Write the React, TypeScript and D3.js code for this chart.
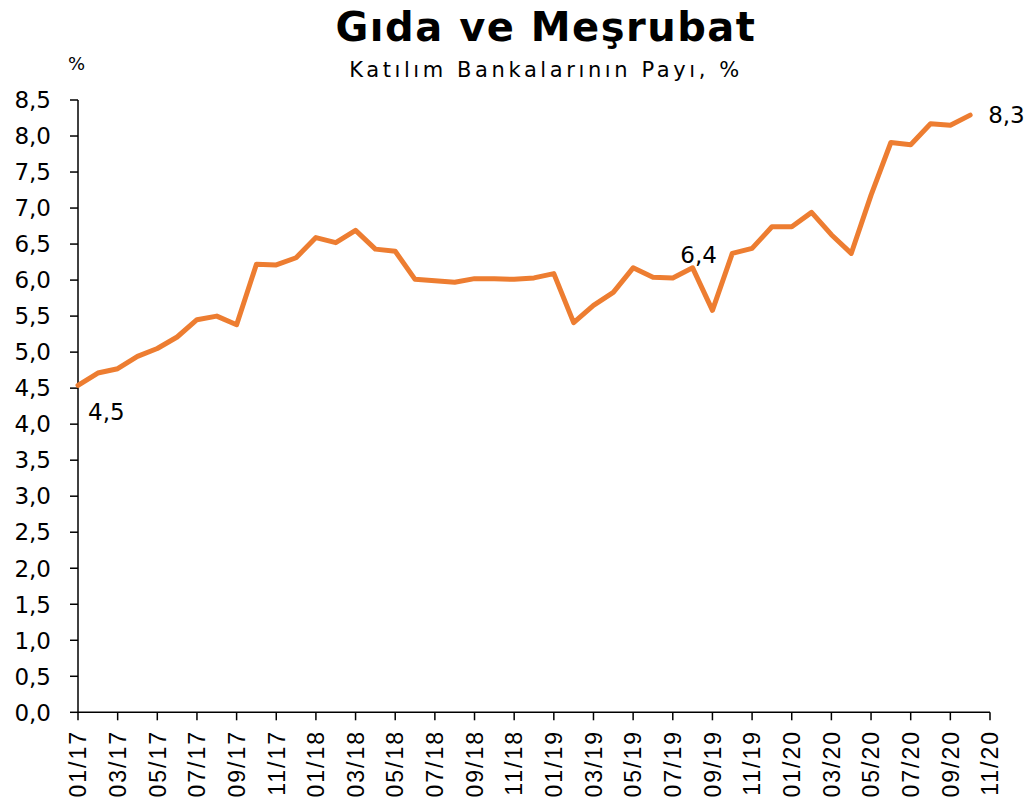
import * as d3 from "d3";

const months: string[] = [
  "01/17", "02/17", "03/17", "04/17", "05/17", "06/17", "07/17", "08/17", "09/17", "10/17", "11/17", "12/17",
  "01/18", "02/18", "03/18", "04/18", "05/18", "06/18", "07/18", "08/18", "09/18", "10/18", "11/18", "12/18",
  "01/19", "02/19", "03/19", "04/19", "05/19", "06/19", "07/19", "08/19", "09/19", "10/19", "11/19", "12/19",
  "01/20", "02/20", "03/20", "04/20", "05/20", "06/20", "07/20", "08/20", "09/20", "10/20", "11/20",
];

// katılım bankalarının payı, % (01/17 - 10/20)
const share: number[] = [
  4.54, 4.71, 4.77, 4.94, 5.05, 5.21, 5.45, 5.5, 5.38, 6.22, 6.21, 6.31,
  6.59, 6.52, 6.69, 6.43, 6.4, 6.01, 5.99, 5.97, 6.02, 6.02, 6.01, 6.03,
  6.09, 5.41, 5.65, 5.83, 6.17, 6.04, 6.03, 6.17, 5.58, 6.37, 6.44, 6.74,
  6.74, 6.94, 6.63, 6.37, 7.18, 7.91, 7.88, 8.17, 8.15, 8.29,
];

const yTicks: number[] = [0, 0.5, 1, 1.5, 2, 2.5, 3, 3.5, 4, 4.5, 5, 5.5, 6, 6.5, 7, 7.5, 8, 8.5];

const pointLabels: { i: number; text: string; dx: number; dy: number; anchor: string }[] = [
  { i: 0, text: "4,5", dx: 10, dy: 35, anchor: "start" },
  { i: 31, text: "6,4", dx: 6, dy: -5, anchor: "middle" },
  { i: 45, text: "8,3", dx: 18, dy: 8, anchor: "start" },
];

const W = 1033;
const H = 805;
const ORANGE = "#ED7D31";
const numFont = "'DejaVu Sans', Verdana, sans-serif";

const App = () => {
  const x = d3.scaleLinear().domain([0, months.length - 1]).range([78, 990]);
  const y = d3.scaleLinear().domain([0, 8.5]).range([712.3, 100]);
  const fmt = (v: number) => d3.format(".1f")(v).replace(".", ",");

  const line = d3
    .line<number>()
    .x((_d, i) => x(i))
    .y((d) => y(d));

  const xTickIdx = months.map((_m, i) => i).filter((i) => i % 2 === 0);

  return (
    <svg
      width={W}
      height={H}
      style={{ position: "absolute", left: 0, top: 0, background: "#fff" }}
    >
      <text
        x={546}
        y={41}
        textAnchor="middle"
        fontFamily={numFont}
        fontWeight="bold"
        fontSize={40}
        letterSpacing={1.5}
      >
        Gıda ve Meşrubat
      </text>
      <text
        x={546}
        y={77}
        textAnchor="middle"
        fontFamily={numFont}
        fontSize={21}
        letterSpacing={3.6}
      >
        Katılım Bankalarının Payı, %
      </text>
      <text x={68} y={70} fontFamily={numFont} fontSize={18}>
        %
      </text>

      {/* y axis */}
      <line x1={x(0)} x2={x(0)} y1={y(8.5)} y2={y(0)} stroke="#000" strokeWidth={1.5} />
      {yTicks.map((t) => (
        <g key={t}>
          <line x1={x(0) - 8} x2={x(0)} y1={y(t)} y2={y(t)} stroke="#000" strokeWidth={1.5} />
          <text
            x={51}
            y={y(t)}
            dy="0.36em"
            textAnchor="end"
            fontFamily={numFont}
            fontSize={23}
          >
            {fmt(t)}
          </text>
        </g>
      ))}

      {/* x axis */}
      <line x1={x(0)} x2={x(months.length - 1)} y1={y(0)} y2={y(0)} stroke="#000" strokeWidth={1.5} />
      {xTickIdx.map((i) => (
        <g key={i}>
          <line x1={x(i)} x2={x(i)} y1={y(0)} y2={y(0) + 8} stroke="#000" strokeWidth={1.5} />
          <text
            transform={`translate(${x(i)},730) rotate(-90)`}
            dy="0.36em"
            textAnchor="end"
            fontFamily="Liberation Sans, Arial, sans-serif"
            fontSize={23}
            letterSpacing={2}
          >
            {months[i]}
          </text>
        </g>
      ))}

      <path
        d={line(share) ?? ""}
        fill="none"
        stroke={ORANGE}
        strokeWidth={5}
        strokeLinejoin="round"
        strokeLinecap="round"
      />

      {pointLabels.map((p) => (
        <text
          key={p.i}
          x={x(p.i) + p.dx}
          y={y(share[p.i]) + p.dy}
          textAnchor={p.anchor}
          fontFamily={numFont}
          fontSize={23}
        >
          {p.text}
        </text>
      ))}
    </svg>
  );
};

export default App;
